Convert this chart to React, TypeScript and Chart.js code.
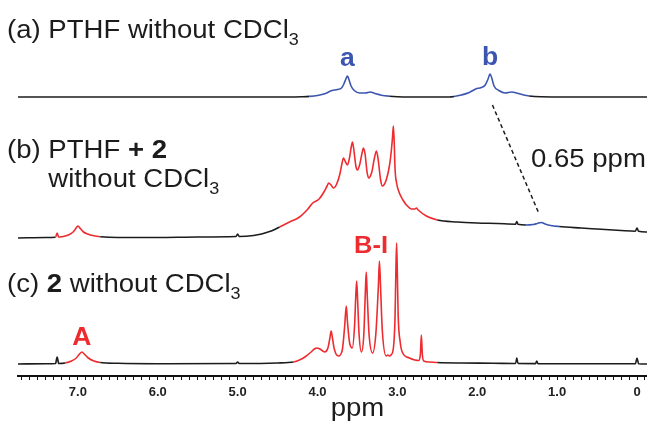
import React, { useEffect, useRef } from 'react';
import { Chart, registerables } from 'chart.js';

Chart.register(...registerables);

// ---- axis ----
const X_MIN = -0.125;
const X_MAX = 7.75;
const TICK_STEP = 0.1;

// ---- (a) PTHF without CDCl3 : chemical shift (ppm) / intensity ----
const PPM_A = [7.75, 6.0, 4.6, 4.2, 4.1, 4.0, 3.9, 3.82, 3.75, 3.7, 3.67, 3.645, 3.625, 3.605, 3.58, 3.54, 3.47, 3.4, 3.34, 3.28, 3.2, 3.1, 3.0, 2.6, 2.35, 2.29, 2.2, 2.1, 2.02, 1.95, 1.9, 1.865, 1.84, 1.815, 1.79, 1.73, 1.65, 1.57, 1.5, 1.42, 1.35, 1.2, 0.5, -0.125];
const INT_A = [0, 0, 0, 0.3, 0.6, 1.5, 3.5, 6.5, 7.5, 9, 13, 18, 21, 17, 11, 6.5, 4, 4, 5, 3.5, 1.8, 0.8, 0.3, 0, 0, 0.5, 2, 4.5, 8, 9.5, 12, 18, 23, 18, 11, 6.5, 4, 5, 3.8, 2, 1, 0.3, 0, 0];

// ---- (b) PTHF + 2 without CDCl3 ----
const PPM_B = [7.75, 7.4, 7.28, 7.26, 7.24, 7.2, 7.12, 7.06, 7.03, 7.0, 6.97, 6.93, 6.88, 6.8, 6.72, 6.5, 6.0, 5.5, 5.02, 5.0, 4.98, 4.8, 4.7, 4.6, 4.55, 4.475, 4.35, 4.225, 4.12, 4.06, 3.98, 3.92, 3.88, 3.86, 3.83, 3.8, 3.76, 3.72, 3.69, 3.675, 3.655, 3.625, 3.6, 3.58, 3.5625, 3.545, 3.52, 3.5, 3.47, 3.44, 3.425, 3.405, 3.38, 3.36, 3.32, 3.29, 3.2625, 3.24, 3.21, 3.1875, 3.14, 3.1, 3.075, 3.06, 3.05, 3.04, 3.03, 3.01, 2.975, 2.93, 2.8875, 2.82, 2.78, 2.7625, 2.74, 2.6375, 2.5, 2.25, 2.0, 1.75, 1.52, 1.505, 1.49, 1.39, 1.3, 1.25, 1.2, 1.15, 1.08, 0.975, 0.7, 0.5, 0.2, 0.02, 0.0, -0.02, -0.125];
const INT_B = [0, 0.5, 0.8, 5, 0.8, 1.3, 3, 6, 9, 12, 9.5, 6, 4, 2.2, 1.3, 0.5, 0.5, 1, 1.5, 4, 1.5, 2.5, 4, 6.5, 8, 11, 16, 21, 29, 35, 39, 46, 52, 55, 53, 50, 54, 64, 76, 80, 77, 73, 80, 90, 96, 88, 72, 68, 74, 86, 90, 84, 66, 60, 66, 79, 87, 78, 58, 52, 58, 72, 88, 102, 112, 96, 70, 55, 45, 38, 33, 29, 29, 30, 28, 22, 18, 16, 15, 14.5, 13.8, 16.5, 13.7, 13, 13.5, 14.5, 15.5, 14, 12.5, 11.5, 10, 9, 7.5, 6.8, 10, 6.7, 6];

// ---- (c) 2 without CDCl3 ----
const PPM_C = [7.75, 7.4, 7.28, 7.26, 7.24, 7.16, 7.08, 7.02, 6.98, 6.95, 6.92, 6.87, 6.8, 6.72, 6.5, 6.0, 5.02, 5.0, 4.98, 4.5, 4.3, 4.2, 4.15, 4.08, 4.04, 4.01, 3.97, 3.91, 3.87, 3.845, 3.83, 3.815, 3.79, 3.74, 3.69, 3.66, 3.64, 3.625, 3.6, 3.565, 3.535, 3.522, 3.51, 3.498, 3.48, 3.45, 3.42, 3.402, 3.39, 3.378, 3.355, 3.31, 3.27, 3.238, 3.225, 3.212, 3.19, 3.14, 3.12, 3.1, 3.08, 3.05, 3.03, 3.02, 3.01, 3.0, 2.99, 2.965, 2.94, 2.85, 2.78, 2.73, 2.712, 2.7, 2.688, 2.67, 2.6, 2.5, 2.2, 1.8, 1.52, 1.505, 1.49, 1.27, 1.255, 1.24, 0.5, 0.02, 0.0, -0.02, -0.125];
const INT_C = [0, 0.3, 0.5, 7, 0.5, 1, 3, 6, 10, 12, 10, 6, 3, 1.5, 0.7, 0.3, 0.5, 2, 0.5, 1, 2, 5, 7.5, 12, 15, 16, 15, 12, 16, 26, 33, 27, 15, 8, 14, 38, 58, 42, 22, 16, 40, 66, 83, 64, 30, 12, 30, 70, 92, 70, 30, 11, 30, 78, 103, 80, 35, 8, 9, 8, 9, 16, 45, 88, 121, 88, 48, 22, 12, 6, 4, 3.5, 10, 29, 10, 3, 2, 1.5, 1, 0.8, 0.5, 6, 0.5, 0.4, 3, 0.4, 0.2, 0.2, 6, 0.2, 0];

// ---- peak labels (ppm) ----
const PEAK_a = 3.625;
const PEAK_b = 1.84;
const PEAK_A = 6.95;
const PEAK_BI = 3.33;
const SHIFT_FROM = 1.81;
const SHIFT_TO = 1.225;

// ---- layout / style ----
const Y_MAX = 376;
const OFFSET_A = 279;
const OFFSET_B = 138;
const OFFSET_C = 12;
const BLACK = '#1c1c1c';
const RED = '#ee2b2f';
const BLUE = '#3c55b1';
const FONT = '"Liberation Sans", Arial, sans-serif';
const SX = 1.06; // horizontal stretch of the figure lettering

type Range = [number, number, string];
const COLORS_A: Range[] = [[4.1, 3.08, BLUE], [2.29, 1.35, BLUE]];
const COLORS_B: Range[] = [[7.29, 6.72, RED], [4.475, 2.5, RED], [1.39, 0.975, BLUE]];
const COLORS_C: Range[] = [[7.16, 6.72, RED], [4.3, 2.55, RED]];

function colorAt(ranges: Range[], x: number) {
  for (const [hi, lo, c] of ranges) if (x <= hi && x >= lo) return c;
  return BLACK;
}

function makeData(ppm: number[], ints: number[], offset: number) {
  return ppm.map((p, i) => ({ x: p, y: ints[i] + offset }));
}

function makeDataset(ppm: number[], ints: number[], offset: number, ranges: Range[]) {
  return {
    data: makeData(ppm, ints, offset),
    borderColor: BLACK,
    borderWidth: 1.6,
    pointRadius: 0,
    fill: false,
    cubicInterpolationMode: 'monotone' as const,
    segment: {
      borderColor: (ctx: any) => colorAt(ranges, (ctx.p0.parsed.x + ctx.p1.parsed.x) / 2),
    },
  };
}

type Run = { t: string; b?: boolean; sub?: boolean };
function drawRuns(ctx: CanvasRenderingContext2D, x: number, y: number, runs: Run[], size: number, color: string) {
  let cx = 0;
  ctx.save();
  ctx.translate(x, y);
  ctx.scale(SX, 1);
  ctx.fillStyle = color;
  ctx.textAlign = 'left';
  ctx.textBaseline = 'alphabetic';
  for (const r of runs) {
    const s = r.sub ? Math.round(size * 0.66) : size;
    ctx.font = `${r.b ? 'bold ' : ''}${s}px ${FONT}`;
    ctx.fillText(r.t, cx, r.sub ? size * 0.28 : 0);
    cx += ctx.measureText(r.t).width;
  }
  ctx.restore();
  return x + cx * SX;
}

function drawCentered(ctx: CanvasRenderingContext2D, t: string, x: number, y: number, font: string, color: string) {
  ctx.save();
  ctx.translate(x, y);
  ctx.scale(SX, 1);
  ctx.font = font;
  ctx.fillStyle = color;
  ctx.textAlign = 'center';
  ctx.textBaseline = 'alphabetic';
  ctx.fillText(t, 0, 0);
  ctx.restore();
}

function measureRun(ctx: CanvasRenderingContext2D, t: string, size: number, bold = false) {
  ctx.font = `${bold ? 'bold ' : ''}${size}px ${FONT}`;
  return ctx.measureText(t).width * SX;
}

const annotations = {
  id: 'nmrAnnotations',
  afterDatasetsDraw(chart: any) {
    const ctx: CanvasRenderingContext2D = chart.ctx;
    const xs = chart.scales.x;
    const ys = chart.scales.y;
    ctx.save();
    const T = 26;
    // spectrum titles
    drawRuns(ctx, 7, 38, [{ t: '(a) PTHF without CDCl' }, { t: '3', sub: true }], T, BLACK);
    drawRuns(ctx, 7, 158, [{ t: '(b) PTHF ' }, { t: '+ 2', b: true }], T, BLACK);
    const indent = 7 + measureRun(ctx, '(b) ', T);
    drawRuns(ctx, indent, 187, [{ t: 'without CDCl' }, { t: '3', sub: true }], T, BLACK);
    drawRuns(ctx, 7, 292, [{ t: '(c) ' }, { t: '2', b: true }, { t: ' without CDCl' }, { t: '3', sub: true }], T, BLACK);
    drawRuns(ctx, 531, 167, [{ t: '0.65 ppm' }], T, BLACK);

    // peak labels
    const LF = `bold 25px ${FONT}`;
    drawCentered(ctx, 'a', xs.getPixelForValue(PEAK_a), 66, LF, BLUE);
    drawCentered(ctx, 'b', xs.getPixelForValue(PEAK_b), 65, LF, BLUE);
    drawCentered(ctx, 'A', xs.getPixelForValue(PEAK_A), 345, LF, RED);
    drawCentered(ctx, 'B-I', xs.getPixelForValue(PEAK_BI), 253, `bold 24px ${FONT}`, RED);

    // shift indicator
    ctx.strokeStyle = BLACK;
    ctx.lineWidth = 1.5;
    ctx.setLineDash([4, 3]);
    ctx.beginPath();
    ctx.moveTo(xs.getPixelForValue(SHIFT_FROM), ys.getPixelForValue(OFFSET_A - 8));
    ctx.lineTo(xs.getPixelForValue(SHIFT_TO), ys.getPixelForValue(OFFSET_B + 24));
    ctx.stroke();
    ctx.setLineDash([]);

    // axis title
    drawCentered(ctx, 'ppm', xs.getPixelForValue(3.5), 416, `26px ${FONT}`, BLACK);
    ctx.restore();
  },
};

export default function App() {
  const ref = useRef<HTMLCanvasElement | null>(null);
  useEffect(() => {
    if (!ref.current) return;
    const chart = new Chart(ref.current, {
      type: 'line',
      data: {
        datasets: [
          makeDataset(PPM_A, INT_A, OFFSET_A, COLORS_A),
          makeDataset(PPM_B, INT_B, OFFSET_B, COLORS_B),
          makeDataset(PPM_C, INT_C, OFFSET_C, COLORS_C),
        ] as any,
      },
      options: {
        animation: false,
        responsive: false,
        devicePixelRatio: 1,
        maintainAspectRatio: false,
        layout: { padding: { left: 18, right: 2, top: 0, bottom: 0 } },
        plugins: { legend: { display: false }, tooltip: { enabled: false } },
        scales: {
          x: {
            type: 'linear',
            reverse: true,
            min: X_MIN,
            max: X_MAX,
            afterFit: (scale: any) => {
              scale.height = 47;
            },
            border: { display: true, color: '#111', width: 2 },
            grid: { drawOnChartArea: false, drawTicks: true, tickLength: 4, color: '#111', lineWidth: 1 },
            ticks: {
              stepSize: TICK_STEP,
              maxTicksLimit: 500,
              includeBounds: false,
              autoSkip: false,
              maxRotation: 0,
              minRotation: 0,
              padding: 5,
              color: '#222',
              font: { family: '"Liberation Sans", Arial, sans-serif', size: 13, weight: 'bold' },
              callback: (v: any) => {
                const n = Number(v);
                const r = Math.round(n);
                return Math.abs(n - r) < 1e-6 ? (r === 0 ? '0' : r.toFixed(1)) : '';
              },
            },
          },
          y: { type: 'linear', display: false, min: 0, max: Y_MAX },
        },
      } as any,
      plugins: [annotations],
    });
    return () => chart.destroy();
  }, []);
  return (
    <div style={{ position: 'fixed', left: 0, top: 0, width: 650, height: 423, background: '#fff' }}>
      <canvas ref={ref} width={650} height={423} style={{ width: 650, height: 423, display: 'block' }} />
    </div>
  );
}
